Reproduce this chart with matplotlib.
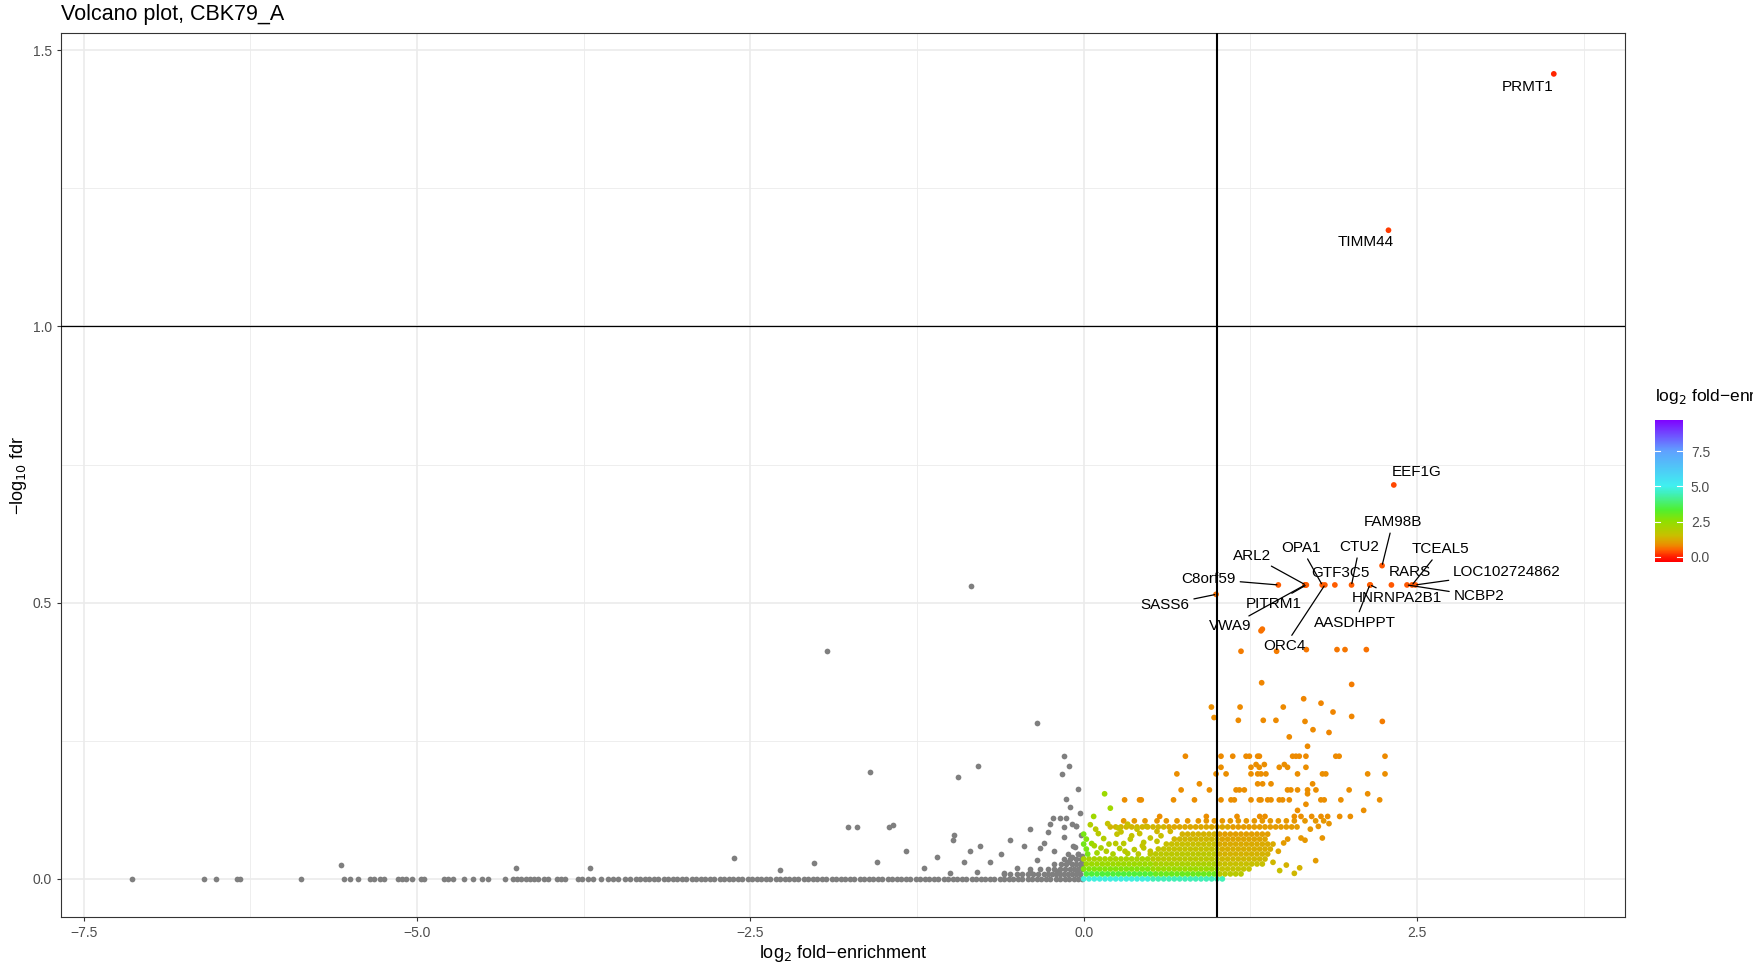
import numpy as np
import matplotlib
matplotlib.use("Agg")
import matplotlib.pyplot as plt
from matplotlib.colors import LinearSegmentedColormap, Normalize

plt.rcParams['font.family'] = ['Liberation Sans', 'DejaVu Sans']

# ======================= data =======================
# --- grey points (log2 fold-enrichment < 0) ---
# points lying on -log10 fdr = 0
grey_base_x = [
    -7.14, -6.60, -6.51, -6.35, -6.33, -5.87, -5.55, -5.50, -5.44, -5.35,
    -5.32, -5.28, -5.25, -5.14, -5.11, -5.08, -5.04, -4.97, -4.95, -4.80,
    -4.77, -4.73, -4.65, -4.58, -4.51, -4.47, -4.34, -4.28, -4.25, -4.22,
    -4.18, -4.15, -4.12, -4.09, -4.05, -4.02, -3.95, -3.92, -3.89, -3.79,
    -3.76, -3.72, -3.68, -3.62, -3.57, -3.53, -3.49, -3.44, -3.40, -3.36,
    -3.33, -3.29, -3.26, -3.22, -3.19, -3.15, -3.12, -3.08, -3.05, -3.01,
    -2.98, -2.94, -2.91, -2.87, -2.84, -2.80, -2.77, -2.73, -2.70, -2.66,
    -2.63, -2.59, -2.56, -2.52, -2.49, -2.45, -2.42, -2.38, -2.35, -2.31,
    -2.28, -2.24, -2.21, -2.17, -2.14, -2.10, -2.07, -2.03, -2.00, -1.96,
    -1.93, -1.89, -1.86, -1.82, -1.79, -1.75, -1.72, -1.68, -1.65, -1.61,
    -1.58, -1.54, -1.51, -1.47, -1.44, -1.40, -1.37, -1.33, -1.30, -1.26,
    -1.23, -1.19, -1.16, -1.12, -1.09, -1.05, -1.02, -0.98, -0.95, -0.91,
    -0.88, -0.84, -0.81, -0.77, -0.74, -0.70, -0.67, -0.63, -0.60, -0.56,
    -0.53, -0.49, -0.46, -0.42, -0.39, -0.35, -0.32, -0.28, -0.25, -0.21,
    -0.18, -0.14, -0.11, -0.07, -0.04, -0.01]
# low rows of grey points close to log2 FE = 0
grey_row_y = [0.009, 0.018, 0.027, 0.036, 0.045]
grey_row_x = [
    [-0.60, -0.55, -0.50, -0.46, -0.42, -0.38, -0.34, -0.30, -0.27, -0.24, -0.21, -0.18,
     -0.15, -0.12, -0.09, -0.06, -0.03],
    [-0.40, -0.33, -0.27, -0.22, -0.18, -0.14, -0.10, -0.07, -0.04, -0.01],
    [-0.22, -0.17, -0.13, -0.09, -0.06, -0.03, -0.01],
    [-0.15, -0.10, -0.06, -0.02],
    [-0.12, -0.04],
]
# individual raised grey points
grey_up_x = [
    -5.57, -4.26, -3.70, -2.62, -2.28, -2.02, -1.77, -1.70, -1.46, -1.43,
    -1.33, -1.55, -1.20, -1.10, -0.98, -0.97, -0.90, -0.85, -0.78, -0.70,
    -0.62, -0.55, -0.50, -0.45, -0.40, -0.35, -0.30, -0.25, -0.22, -0.18,
    -0.15, -0.12, -0.10, -0.08, -0.06, -0.04, -0.03, -0.02, -0.01, -0.05,
    -0.20, -0.40, -0.60, -0.80, -1.00, -0.23, -0.27, -0.33, -0.13, -0.09,
    -0.843, -1.926, -0.349, -0.150, -0.109, -0.162, -0.040, -0.793, -0.943, -1.606,
    -0.13, -0.09, -0.06, -0.15, -0.067, -0.01]
grey_up_y = [
    0.026, 0.020, 0.020, 0.038, 0.016, 0.028, 0.093, 0.093, 0.093, 0.097,
    0.050, 0.030, 0.020, 0.040, 0.070, 0.080, 0.030, 0.050, 0.060, 0.030,
    0.045, 0.070, 0.020, 0.060, 0.090, 0.035, 0.065, 0.100, 0.050, 0.110,
    0.075, 0.030, 0.130, 0.060, 0.095, 0.045, 0.120, 0.080, 0.020, 0.015,
    0.015, 0.012, 0.010, 0.012, 0.010, 0.110, 0.085, 0.055, 0.145, 0.040,
    0.530, 0.412, 0.282, 0.222, 0.204, 0.189, 0.163, 0.204, 0.184, 0.194,
    0.110, 0.100, 0.095, 0.093, 0.057, 0.042]

# --- coloured points (log2 fold-enrichment > 0) ---
# the packed cloud: positions read along rows, two interleaved column sets
dense_x_a = [0.00, 0.04, 0.08, 0.12, 0.16, 0.20, 0.24, 0.28, 0.32, 0.36, 0.40, 0.44, 0.48, 0.52,
             0.56, 0.60, 0.64, 0.68, 0.72, 0.76, 0.80, 0.84, 0.88, 0.92, 0.96, 1.00, 1.04, 1.08,
             1.12, 1.16, 1.20, 1.24, 1.28, 1.32, 1.36, 1.40, 1.44, 1.48, 1.52, 1.56, 1.60, 1.64]
dense_x_b = [0.02, 0.06, 0.10, 0.14, 0.18, 0.22, 0.26, 0.30, 0.34, 0.38, 0.42, 0.46, 0.50, 0.54,
             0.58, 0.62, 0.66, 0.70, 0.74, 0.78, 0.82, 0.86, 0.90, 0.94, 0.98, 1.02, 1.06, 1.10,
             1.14, 1.18, 1.22, 1.26, 1.30, 1.34, 1.38, 1.42, 1.46, 1.50, 1.54, 1.58, 1.62, 1.66]
# segments of the cloud: -log10 fdr, colour value, x extent, column set
seg_y = [0.000, 0.000, 0.009, 0.009, 0.009, 0.018, 0.018, 0.018, 0.027, 0.027, 0.027,
         0.036, 0.036, 0.036, 0.045, 0.045, 0.054, 0.054, 0.063, 0.063, 0.072, 0.072,
         0.081, 0.081, 0.094, 0.094, 0.094]
seg_c = [4.8, 4.4, 3.4, 3.0, 1.8, 2.7, 2.3, 1.6, 2.3, 2.0, 1.5,
         2.1, 1.8, 1.4, 1.75, 1.3, 1.6, 1.25, 1.5, 1.2, 1.4, 1.1,
         1.3, 1.05, 1.35, 1.15, 1.0]
seg_lo = [0.00, 0.52, 0.02, 0.52, 1.02, 0.00, 0.52, 1.02, 0.02, 0.52, 1.02,
          0.00, 0.52, 1.02, 0.48, 1.02, 0.56, 1.02, 0.62, 1.02, 0.66, 1.02,
          0.74, 1.02, 0.17, 0.62, 1.12]
seg_hi = [0.50, 1.05, 0.50, 1.00, 1.18, 0.50, 1.00, 1.26, 0.50, 1.00, 1.34,
          0.50, 1.00, 1.37, 1.00, 1.40, 1.00, 1.40, 1.00, 1.42, 1.00, 1.38,
          1.00, 1.40, 0.60, 1.10, 1.62]
seg_grid = ["a", "a", "b", "b", "b", "a", "a", "a", "b", "b", "b",
            "a", "a", "a", "b", "b", "a", "a", "b", "b", "a", "a",
            "b", "b", "a", "a", "a"]

# rows of scattered coloured points
row_y = [0.105, 0.113, 0.124, 0.135, 0.143, 0.154, 0.161, 0.172, 0.190, 0.202, 0.207, 0.222,
         0.240, 0.257]
row_c = [0.95, 0.85, 0.85, 0.85, 0.85, 0.85, 0.85, 0.85, 0.82, 0.82, 0.82, 0.8, 0.78, 0.78]
row_x = [
    [0.30, 0.38, 0.46, 0.55, 0.62, 0.70, 0.78, 0.86, 0.92, 0.98, 1.04, 1.10, 1.16, 1.22, 1.28,
     1.34, 1.40, 1.46, 1.52, 1.58, 1.66, 1.74, 1.80],
    [0.57, 0.92, 1.15, 1.32, 1.36, 1.58, 1.63, 1.71, 1.78, 1.83, 1.92, 2.00],
    [1.604, 2.10],
    [1.667],
    [0.307, 0.419, 0.432, 0.674, 0.831, 1.030, 1.105, 1.130, 1.255, 1.317, 1.330, 1.380, 1.405,
     1.467, 1.492, 1.542, 1.779, 1.804, 1.929, 2.22],
    [1.679, 2.13],
    [0.731, 0.943, 1.143, 1.168, 1.205, 1.529, 1.554, 1.604, 1.679, 1.742, 1.991],
    [0.868, 1.305, 1.342, 1.405, 1.717],
    [0.699, 0.993, 1.068, 1.255, 1.305, 1.330, 1.367, 1.604, 1.791, 1.816, 2.13, 2.26],
    [1.030, 1.255, 1.317, 1.467, 1.529, 1.667],
    [1.293, 1.355, 1.505],
    [0.763, 1.030, 1.118, 1.218, 1.243, 1.305, 1.318, 1.567, 1.592, 1.617, 1.667, 1.891, 1.916,
     2.26],
    [1.679],
    [1.542],
]

# individual coloured points (x, y, colour value)
pt_x = [0.03, 0.10, 0.22, 0.33, 0.41, 0.02, 0.13, 0.27, 0.38, 0.45,
        0.00, 0.06, 0.19, 0.30, 0.45, 0.55, 0.02, 0.15, 0.35, 0.50,
        0.58, 0.00, 0.11, 0.25, 0.42, 0.55, 0.65, 0.075, 0.20, 0.157,
        1.42, 1.47, 1.52, 1.58, 1.62, 1.74, 1.46, 1.50, 1.53, 1.63,
        1.66, 1.79, 1.70, 1.76, 1.84,
        0.958, 0.978, 1.173, 1.160, 1.347, 1.442, 1.497, 1.335, 1.18, 1.447,
        1.33, 1.34, 1.67, 1.90, 1.96, 2.12, 1.66, 1.78, 1.87, 2.01,
        2.24, 1.65, 2.01, 1.72, 1.84,
        0.05, 0.09, 0.18, 0.26, 0.33, 0.40, 0.47, 0.08, 0.17, 0.24,
        0.31, 0.36, 0.44, 0.28, 0.50]
pt_y = [0.045, 0.047, 0.045, 0.046, 0.045, 0.054, 0.056, 0.055, 0.053, 0.056,
        0.063, 0.064, 0.063, 0.064, 0.066, 0.068, 0.072, 0.073, 0.072, 0.074,
        0.078, 0.081, 0.082, 0.081, 0.082, 0.086, 0.086, 0.113, 0.128, 0.154,
        0.030, 0.015, 0.025, 0.010, 0.020, 0.033, 0.050, 0.065, 0.072, 0.074,
        0.070, 0.074, 0.090, 0.095, 0.100,
        0.311, 0.292, 0.311, 0.287, 0.287, 0.287, 0.311, 0.355, 0.412, 0.412,
        0.449, 0.452, 0.415, 0.415, 0.415, 0.415, 0.285, 0.318, 0.302, 0.294,
        0.285, 0.326, 0.352, 0.270, 0.265,
        0.098, 0.090, 0.100, 0.092, 0.099, 0.090, 0.095, 0.060, 0.050, 0.064,
        0.050, 0.078, 0.060, 0.085, 0.050]
pt_c = [2.8, 2.2, 2.0, 1.9, 1.8, 2.8, 2.0, 1.9, 1.8, 1.7,
        2.9, 2.4, 1.9, 1.8, 1.7, 1.6, 2.7, 1.9, 1.7, 1.6,
        1.5, 2.8, 1.8, 1.6, 1.5, 1.4, 1.35, 2.2, 2.2, 2.3,
        1.4, 1.5, 1.3, 1.4, 1.3, 1.0, 1.1, 1.0, 0.95, 0.95,
        0.95, 0.9, 0.95, 0.9, 0.9,
        0.85, 0.85, 0.8, 0.8, 0.78, 0.78, 0.78, 0.75, 0.7, 0.7,
        0.6, 0.6, 0.65, 0.65, 0.65, 0.6, 0.78, 0.75, 0.75, 0.75,
        0.7, 0.75, 0.7, 0.78, 0.75,
        1.9, 1.8, 1.6, 1.6, 1.5, 1.5, 1.4, 2.1, 1.9, 1.8,
        1.8, 1.6, 1.6, 1.6, 1.6]

# --- labelled genes ---
genes = ["PRMT1", "TIMM44", "EEF1G", "FAM98B", "SASS6", "C8orf59", "ARL2", "PITRM1", "VWA9", "OPA1",
         "ORC4", "GTF3C5", "CTU2", "AASDHPPT", "HNRNPA2B1", "RARS", "NCBP2", "TCEAL5", "LOC102724862"]
gene_x = [3.526, 2.286, 2.326, 2.238, 0.993, 1.460, 1.665, 1.670, 1.660, 1.789, 1.809, 1.884, 2.009,
          2.146, 2.150, 2.308, 2.425, 2.463, 2.488]
gene_y = [1.457, 1.174, 0.713, 0.567, 0.515, 0.532, 0.532, 0.532, 0.532, 0.532, 0.532, 0.532, 0.532,
          0.532, 0.532, 0.532, 0.532, 0.532, 0.532]
gene_c = [0.05, 0.2, 0.3, 0.4, 0.6, 0.45, 0.45, 0.45, 0.45, 0.45, 0.45, 0.45, 0.45, 0.45, 0.45, 0.4,
          0.4, 0.4, 0.4]

# label placement (text centre in data units) and whether a segment is drawn
label_pos = {
    "PRMT1": (3.332, 1.433, False), "TIMM44": (2.118, 1.152, False), "EEF1G": (2.495, 0.737, False),
    "FAM98B": (2.319, 0.646, True), "SASS6": (0.612, 0.496, True), "C8orf59": (0.939, 0.5425, True),
    "ARL2": (1.265, 0.585, True), "PITRM1": (1.424, 0.498, True), "VWA9": (1.097, 0.457, True),
    "OPA1": (1.633, 0.599, True), "ORC4": (1.507, 0.421, True), "GTF3C5": (1.926, 0.553, False),
    "CTU2": (2.068, 0.601, True), "AASDHPPT": (2.034, 0.4635, True), "HNRNPA2B1": (2.352, 0.508, True),
    "RARS": (2.445, 0.555, False), "NCBP2": (2.963, 0.512, True), "TCEAL5": (2.679, 0.597, True),
    "LOC102724862": (3.173, 0.555, True),
}

# colour scale anchors (value -> colour)
scale_vals = [-0.36, 0.0, 0.45, 0.8, 1.15, 1.5, 2.2, 2.5, 3.3, 4.5, 5.0, 7.5, 9.7]
scale_cols = ["#FF0000", "#FF2000", "#FF6000", "#EC8C00", "#DCA800", "#C8C000", "#A0D800",
              "#90E000", "#50F030", "#40F0C0", "#40F0F0", "#60A0FF", "#8000FF"]

# ======================= figure =======================
W, H = 1753, 965
fig = plt.figure(figsize=(W / 100, H / 100), dpi=100)
ax = fig.add_axes([61 / W, 1 - 917 / H, (1625 - 61) / W, (917 - 33) / H])

vmin, vmax = scale_vals[0], scale_vals[-1]
cmap = LinearSegmentedColormap.from_list(
    "leg", [((v - vmin) / (vmax - vmin), c) for v, c in zip(scale_vals, scale_cols)])
cnorm = Normalize(vmin=vmin, vmax=vmax)

ax.set_xlim(-7.67, 4.06)
ax.set_ylim(-0.069, 1.531)
ax.set_facecolor("white")
for s in ax.spines.values():
    s.set_color("#333333")
    s.set_linewidth(0.8)

major_x = [-7.5, -5.0, -2.5, 0.0, 2.5]
minor_x = [-6.25, -3.75, -1.25, 1.25, 3.75]
major_y = [0.0, 0.5, 1.0, 1.5]
minor_y = [0.25, 0.75, 1.25]
for v in minor_x:
    ax.axvline(v, color="#EBEBEB", lw=0.6, zorder=0)
for v in minor_y:
    ax.axhline(v, color="#EBEBEB", lw=0.6, zorder=0)
for v in major_x:
    ax.axvline(v, color="#EBEBEB", lw=1.2, zorder=0)
for v in major_y:
    ax.axhline(v, color="#EBEBEB", lw=1.2, zorder=0)

ax.set_xticks(major_x)
ax.set_xticklabels(["\u22127.5", "\u22125.0", "\u22122.5", "0.0", "2.5"])
ax.set_yticks(major_y)
ax.set_yticklabels(["0.0", "0.5", "1.0", "1.5"])
ax.tick_params(axis="both", colors="#333333", labelcolor="#4D4D4D", labelsize=10, length=3, width=0.8)

S = 17
GREY = "#7F7F7F"
# grey points
ax.scatter(grey_base_x, [0.0] * len(grey_base_x), s=S, color=GREY, linewidths=0, zorder=2)
for yv, xs in zip(grey_row_y, grey_row_x):
    ax.scatter(xs, [yv] * len(xs), s=S, color=GREY, linewidths=0, zorder=2)
ax.scatter(grey_up_x, grey_up_y, s=S, color=GREY, linewidths=0, zorder=2)

# coloured points
cx, cy, cc = [], [], []
for yv, cv, lo, hi, g in zip(seg_y, seg_c, seg_lo, seg_hi, seg_grid):
    grid = dense_x_a if g == "a" else dense_x_b
    for xv in grid:
        if lo - 1e-9 <= xv <= hi + 1e-9:
            cx.append(xv); cy.append(yv); cc.append(cv)
for yv, cv, xs in zip(row_y, row_c, row_x):
    for xv in xs:
        cx.append(xv); cy.append(yv); cc.append(cv)
cx += pt_x; cy += pt_y; cc += pt_c
ax.scatter(cx, cy, s=S, c=cc, cmap=cmap, norm=cnorm, linewidths=0, zorder=2)
ax.scatter(gene_x, gene_y, s=S, c=gene_c, cmap=cmap, norm=cnorm, linewidths=0, zorder=3)

ax.axvline(1.0, color="black", lw=1.5, zorder=4)
ax.axhline(1.0, color="black", lw=0.9, zorder=4)

LFS = 11
for g, gx, gy in zip(genes, gene_x, gene_y):
    tx, ty, seg = label_pos[g]
    if seg:
        ax.annotate(g, xy=(gx, gy), xytext=(tx, ty), ha="center", va="center", fontsize=LFS,
                    arrowprops=dict(arrowstyle="-", color="black", lw=0.9, shrinkA=1, shrinkB=1),
                    zorder=5)
    else:
        ax.text(tx, ty, g, ha="center", va="center", fontsize=LFS, zorder=5)

ax.set_xlabel("log$_2$ fold\u2212enrichment", fontsize=13, labelpad=2)
ax.set_ylabel("\u2212log$_{10}$ fdr", fontsize=13, labelpad=3)
fig.text(61 / W, 1 - 20 / H, "Volcano plot, CBK79_A", fontsize=15.5, ha="left", va="baseline")

# colour bar
cax = fig.add_axes([1654.6 / W, 1 - 562 / H, 28 / W, 142 / H])
grad = np.linspace(vmin, vmax, 300).reshape(-1, 1)
cax.imshow(grad, aspect="auto", cmap=cmap, norm=cnorm, origin="lower", extent=[0, 1, vmin, vmax])
cax.set_xlim(0, 1)
cax.set_ylim(vmin, vmax)
cax.set_xticks([])
cax.set_yticks([0.0, 2.5, 5.0, 7.5])
cax.yaxis.tick_right()
cax.set_yticklabels(["0.0", "2.5", "5.0", "7.5"])
cax.tick_params(axis="y", length=0, labelsize=10, labelcolor="#4D4D4D", pad=6)
for v in [0.0, 2.5, 5.0, 7.5]:
    cax.plot([0, 0.2], [v, v], color="white", lw=0.8)
    cax.plot([0.8, 1], [v, v], color="white", lw=0.8)
for s in cax.spines.values():
    s.set_visible(False)
fig.text(1654.6 / W, 1 - 397 / H, "log$_2$ fold\u2212enrichment", fontsize=12.5, ha="left", va="center")

fig.savefig("out.png", dpi=100)
